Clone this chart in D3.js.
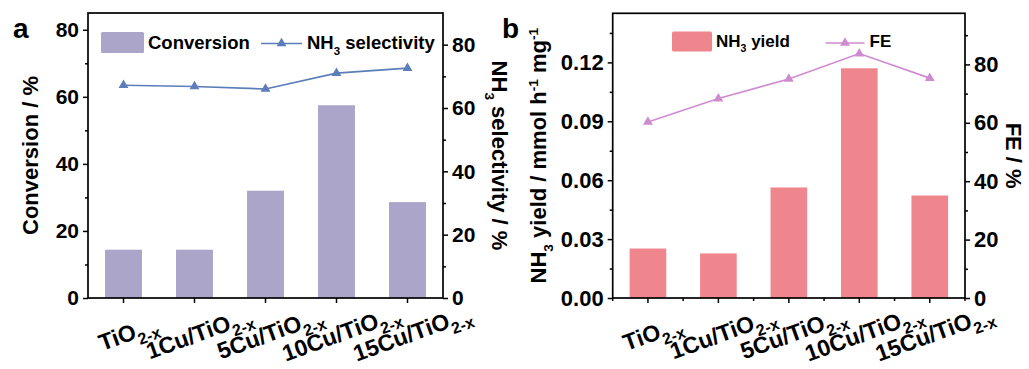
<!DOCTYPE html>
<html>
<head>
<meta charset="utf-8">
<script src="https://cdn.jsdelivr.net/npm/d3@7"></script>
<style>
  html, body { margin: 0; padding: 0; background: #fff; }
  svg { display: block; font-family: "Liberation Sans", Arial, sans-serif; font-weight: bold; }
</style>
</head>
<body>
<svg id="fig" width="1029" height="369"></svg>
<script>
// Sample names (base part; every one carries the "2-x" subscript)
const categories = ["TiO", "1Cu/TiO", "5Cu/TiO", "10Cu/TiO", "15Cu/TiO"];
const categorySub = "2-x";

// Panel a: conversion (bars, left axis) and NH3 selectivity (line, right axis), %
const conversion = [14.4, 14.4, 32.0, 57.5, 28.6];
const selectivity = [67.2, 66.8, 66.0, 71.0, 72.6];

// Panel b: NH3 yield (bars, mmol h-1 mg-1) and Faradaic efficiency (line, %)
const nh3Yield = [0.0252, 0.0227, 0.0563, 0.117, 0.0522];
const faradaicEff = [60.3, 68.3, 75.0, 83.7, 75.3];

// Axis ticks
const convTicks = [0, 20, 40, 60, 80];
const convMinor = [10, 30, 50, 70];
const selTicks = [0, 20, 40, 60, 80];
const selMinor = [10, 30, 50, 70];
const yieldTicks = [0, 0.03, 0.06, 0.09, 0.12];
const yieldMinor = [0.015, 0.045, 0.075, 0.105, 0.135];
const feTicks = [0, 20, 40, 60, 80];
const feMinor = [10, 30, 50, 70, 90];

const svg = d3.select("#fig");

// Write text made of plain / subscript / superscript runs
function richText(textSel, parts, size) {
  let shift = 0;
  parts.forEach(p => {
    const small = p.sub || p.sup;
    const target = p.sub ? size * 0.32 : p.sup ? -size * 0.38 : 0;
    textSel.append("tspan")
      .attr("dy", target - shift)
      .attr("font-size", small ? (p.scale || 0.62) * size : size)
      .text(p.t);
    shift = target;
  });
}

function drawPanel(cfg) {
  const g = svg.append("g");
  const x = d3.scaleBand().domain(categories).range([cfg.left, cfg.right])
    .paddingInner(0.48).paddingOuter(0.24);
  const yL = d3.scaleLinear().domain(cfg.leftDomain).range([cfg.bottom, cfg.top]);
  const yR = d3.scaleLinear().domain(cfg.rightDomain).range([cfg.bottom, cfg.top]);

  // bars
  g.append("g").selectAll("rect").data(cfg.bars).join("rect")
    .attr("x", (d, i) => x(categories[i]))
    .attr("width", x.bandwidth())
    .attr("y", d => yL(d))
    .attr("height", d => yL(0) - yL(d))
    .attr("fill", cfg.barColor);

  // line + triangle markers
  const cx = i => x(categories[i]) + x.bandwidth() / 2;
  const line = d3.line().x((d, i) => cx(i)).y(d => yR(d));
  g.append("path").datum(cfg.line).attr("d", line)
    .attr("fill", "none").attr("stroke", cfg.lineColor).attr("stroke-width", 1.6);
  g.append("g").selectAll("path").data(cfg.line).join("path")
    .attr("d", d3.symbol(d3.symbolTriangle, 42))
    .attr("transform", (d, i) => `translate(${cx(i)},${yR(d)})`)
    .attr("fill", cfg.lineColor);

  // axes
  const styleAxis = a => {
    a.select(".domain").remove();
    a.selectAll("line").attr("stroke", "#000").attr("stroke-width", 1.5);
    a.selectAll("text").attr("fill", "#000").attr("font-size", cfg.tickFont)
      .attr("font-family", "Liberation Sans, Arial, sans-serif").attr("font-weight", "bold");
  };
  g.append("g").attr("transform", `translate(${cfg.left},0)`)
    .call(d3.axisLeft(yL).tickValues(cfg.leftTicks).tickSize(5).tickPadding(4).tickFormat(cfg.leftFormat))
    .call(styleAxis);
  g.append("g").attr("transform", `translate(${cfg.left},0)`)
    .call(d3.axisLeft(yL).tickValues(cfg.leftMinor).tickSize(3).tickFormat(""))
    .call(styleAxis);
  g.append("g").attr("transform", `translate(${cfg.right},0)`)
    .call(d3.axisRight(yR).tickValues(cfg.rightTicks).tickSize(5).tickPadding(4).tickFormat(d3.format("d")))
    .call(styleAxis);
  g.append("g").attr("transform", `translate(${cfg.right},0)`)
    .call(d3.axisRight(yR).tickValues(cfg.rightMinor).tickSize(3).tickFormat(""))
    .call(styleAxis);
  g.append("g").attr("transform", `translate(0,${cfg.bottom})`)
    .call(d3.axisBottom(x).tickSize(5).tickFormat(""))
    .call(styleAxis);
  if (cfg.xMinor) {
    const step = x.step();
    const bounds = d3.range(categories.length + 1).map(i => cfg.left + i * step);
    g.append("g").selectAll("line").data(bounds).join("line")
      .attr("x1", d => d).attr("x2", d => d)
      .attr("y1", cfg.bottom).attr("y2", cfg.bottom + 3)
      .attr("stroke", "#000").attr("stroke-width", 1.5);
  }

  // frame
  g.append("rect").attr("x", cfg.left).attr("y", cfg.top)
    .attr("width", cfg.right - cfg.left).attr("height", cfg.bottom - cfg.top)
    .attr("fill", "none").attr("stroke", "#000").attr("stroke-width", 1.7);

  // category labels, tilted
  g.append("g").selectAll("text").data(categories).join("text")
    .attr("transform", d => `translate(${x(d) + x.bandwidth() / 2 + 5},${cfg.bottom + 36}) rotate(-20)`)
    .attr("text-anchor", "middle").attr("y", 7).attr("fill", "#000")
    .each(function (d) {
      richText(d3.select(this), [{ t: d }, { t: categorySub, sub: true, scale: 0.7 }], 23);
    });

  // axis titles
  const lt = g.append("text").attr("text-anchor", "middle").attr("fill", "#000")
    .attr("transform", `translate(${cfg.leftTitleX},${(cfg.top + cfg.bottom) / 2}) rotate(-90)`);
  richText(lt, cfg.leftTitle, 22);
  const rt = g.append("text").attr("text-anchor", "middle").attr("fill", "#000")
    .attr("transform", `translate(${cfg.rightTitleX},${(cfg.top + cfg.bottom) / 2}) rotate(90)`);
  richText(rt, cfg.rightTitle, 22);

  // panel letter
  g.append("text").attr("x", cfg.letterX).attr("y", 38).attr("font-size", 28)
    .attr("fill", "#000").text(cfg.letter);

  // legend
  const lg = cfg.legend;
  g.append("rect").attr("x", lg.rx).attr("y", lg.ry).attr("width", lg.rw).attr("height", lg.rh)
    .attr("rx", 1.5).attr("fill", cfg.barColor);
  richText(g.append("text").attr("x", lg.rx + lg.rw + 4).attr("y", lg.base).attr("fill", "#000"),
    lg.barLabel, lg.font);
  g.append("line").attr("x1", lg.lx).attr("x2", lg.lx + lg.lw).attr("y1", lg.ly).attr("y2", lg.ly)
    .attr("stroke", cfg.lineColor).attr("stroke-width", 1.6);
  g.append("path").attr("d", d3.symbol(d3.symbolTriangle, 42))
    .attr("transform", `translate(${lg.lx + lg.lw / 2},${lg.ly})`).attr("fill", cfg.lineColor);
  richText(g.append("text").attr("x", lg.lx + lg.lw + 5).attr("y", lg.base).attr("fill", "#000"),
    lg.lineLabel, lg.font);
}

drawPanel({
  letter: "a", letterX: 13,
  left: 88, right: 443, top: 13, bottom: 298,
  leftDomain: [0, 85], rightDomain: [0, 90],
  leftTicks: convTicks, leftMinor: convMinor, leftFormat: d3.format("d"),
  rightTicks: selTicks, rightMinor: selMinor,
  bars: conversion, line: selectivity,
  barColor: "#aba5c9", lineColor: "#5b7db8",
  tickFont: 21, xMinor: false,
  leftTitleX: 38, rightTitleX: 492,
  leftTitle: [{ t: "Conversion / %" }],
  rightTitle: [{ t: "NH" }, { t: "3", sub: true }, { t: " selectivity / %" }],
  legend: {
    rx: 101, ry: 32, rw: 43, rh: 21, base: 49, font: 18.5,
    barLabel: [{ t: "Conversion" }],
    lx: 261, lw: 41, ly: 43.5,
    lineLabel: [{ t: "NH" }, { t: "3", sub: true }, { t: " selectivity" }]
  }
});

drawPanel({
  letter: "b", letterX: 502,
  left: 612.7, right: 965, top: 13.3, bottom: 298,
  leftDomain: [0, 0.145], rightDomain: [0, 97.5],
  leftTicks: yieldTicks, leftMinor: yieldMinor, leftFormat: d3.format(".2f"),
  rightTicks: feTicks, rightMinor: feMinor,
  bars: nh3Yield, line: faradaicEff,
  barColor: "#ef868e", lineColor: "#cf8bd0",
  tickFont: 22, xMinor: true,
  leftTitleX: 546, rightTitleX: 1006,
  leftTitle: [{ t: "NH" }, { t: "3", sub: true }, { t: " yield / mmol h" }, { t: "-1", sup: true },
              { t: " mg" }, { t: "-1", sup: true }],
  rightTitle: [{ t: "FE / %" }],
  legend: {
    rx: 672, ry: 31.5, rw: 40, rh: 20, base: 47, font: 17,
    barLabel: [{ t: "NH" }, { t: "3", sub: true }, { t: " yield" }],
    lx: 825.5, lw: 39, ly: 43,
    lineLabel: [{ t: "FE" }]
  }
});
</script>
</body>
</html>
